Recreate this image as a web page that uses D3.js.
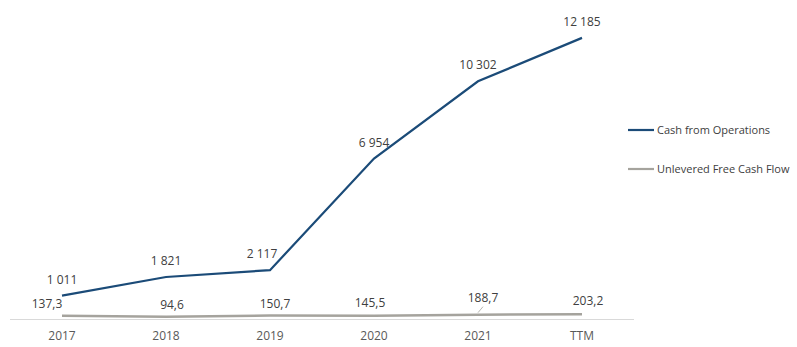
<!DOCTYPE html>
<html><head><meta charset="utf-8">
<script src="https://cdn.jsdelivr.net/npm/d3@7"></script>
<style>body{margin:0;background:#fff}svg{display:block;font-family:"Open Sans","Noto Sans",sans-serif}</style>
</head><body><svg id="c" width="797" height="347"></svg>
<script>
const categories = ["2017","2018","2019","2020","2021","TTM"];
const cashFromOps = [1011,1821,2117,6954,10302,12185];
const unleveredFCF = [137.3,94.6,150.7,145.5,188.7,203.2];
const cashLabels = ["1 011","1 821","2 117","6 954","10 302","12 185"];
const fcfLabels = ["137,3","94,6","150,7","145,5","188,7","203,2"];
const seriesNames = ["Cash from Operations","Unlevered Free Cash Flow"];

const svg = d3.select("#c");
const x = d3.scalePoint().domain(categories).range([62,582]);
const y = d3.scaleLinear().domain([0,14000]).range([319,-4]);

svg.append("line").attr("x1",10).attr("x2",634).attr("y1",319.5).attr("y2",319.5)
  .attr("stroke","#d9d9d9").attr("stroke-width",1);

svg.selectAll("text.cat").data(categories).join("text").attr("class","cat")
  .attr("x",d=>x(d)).attr("y",340).attr("text-anchor","middle")
  .attr("font-size",12).attr("fill","#595959").text(d=>d);

const line = d3.line().x((d,i)=>x(categories[i])).y(d=>y(d));
svg.append("path").datum(unleveredFCF).attr("d",line).attr("fill","none")
  .attr("stroke","#a5a39d").attr("stroke-width",2.5);
svg.append("path").datum(cashFromOps).attr("d",line).attr("fill","none")
  .attr("stroke","#1b4b78").attr("stroke-width",2.2);

const cashDx = [0,0,-8,0,0,0];
svg.selectAll("text.cl").data(cashFromOps).join("text").attr("class","cl")
  .attr("x",(d,i)=>x(categories[i])+cashDx[i]).attr("y",d=>y(d)-12)
  .attr("text-anchor","middle").attr("font-size",12).attr("fill","#404040")
  .text((d,i)=>cashLabels[i]);

const fcfDx = [-15,6,5,-4,5,6];
const fcfDy = [-8,-8,-8,-9,-13,-9];
svg.selectAll("text.fl").data(unleveredFCF).join("text").attr("class","fl")
  .attr("x",(d,i)=>x(categories[i])+fcfDx[i]).attr("y",(d,i)=>y(d)+fcfDy[i])
  .attr("text-anchor","middle").attr("font-size",12).attr("fill","#404040")
  .text((d,i)=>fcfLabels[i]);
svg.append("line").attr("x1",x("2021")).attr("y1",y(188.7)-2).attr("x2",x("2021")+5).attr("y2",y(188.7)-8)
  .attr("stroke","#a5a39d").attr("stroke-width",0.8);

const colors = ["#1b4b78","#a5a39d"];
const lg = svg.selectAll("g.lg").data(seriesNames).join("g").attr("class","lg")
  .attr("transform",(d,i)=>`translate(628,${130+i*39})`);
lg.append("line").attr("x1",0).attr("x2",26).attr("stroke",(d,i)=>colors[i]).attr("stroke-width",2.2);
lg.append("text").attr("x",29).attr("y",4).attr("font-size",11).attr("fill","#404040").text(d=>d);
</script></body></html>
